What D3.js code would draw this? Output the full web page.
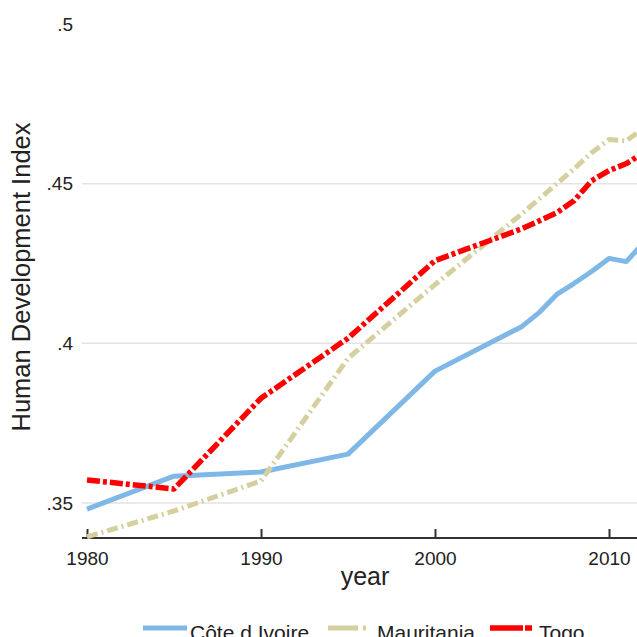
<!DOCTYPE html>
<html>
<head>
<meta charset="utf-8">
<script src="https://cdn.jsdelivr.net/npm/d3@7"></script>
<style>
  body { margin: 0; background: #fff; }
  svg { font-family: "Liberation Sans", Arial, sans-serif; }
</style>
</head>
<body>
<div class="main"></div>
<script>
// data
const years = [1980, 1985, 1990, 1995, 2000, 2005, 2006, 2007, 2008, 2009, 2010, 2011, 2012];
const coteDIvoire = [0.3481, 0.3584, 0.3597, 0.3653, 0.3913, 0.4053, 0.4097, 0.4153, 0.4188, 0.4225, 0.4266, 0.4256, 0.4316];
const mauritania = [0.3394, 0.3475, 0.3569, 0.3953, 0.4184, 0.4406, 0.4453, 0.4500, 0.4547, 0.4597, 0.4638, 0.4634, 0.4675];
const togo = [0.3572, 0.3544, 0.3828, 0.4016, 0.4259, 0.4359, 0.4384, 0.4409, 0.4447, 0.4509, 0.4541, 0.4563, 0.4597];
const seriesNames = ["Côte d Ivoire", "Mauritania", "Togo"];
const xTicks = [1980, 1990, 2000, 2010];
const yTicks = [0.35, 0.4, 0.45, 0.5];
const gridTicks = [0.35, 0.4, 0.45];

const w = 637, h = 637;
const plotLeft = 82, plotRight = 660, axisY = 538;
const fontFam = "Liberation Sans, Arial, sans-serif";

const xScale = d3.scaleLinear().domain([1980, 2010]).range([87, 609]);
const yScale = d3.scaleLinear().domain([0.35, 0.5]).range([503, 24]);

const svg = d3.select(".main").append("svg")
  .attr("width", w)
  .attr("height", h);

// gridlines
svg.append("g")
  .selectAll("line")
  .data(gridTicks)
  .enter()
  .append("line")
  .attr("x1", plotLeft)
  .attr("x2", plotRight)
  .attr("y1", d => yScale(d))
  .attr("y2", d => yScale(d))
  .attr("stroke", "#e3e3e3")
  .attr("stroke-width", 1.5);

// y axis: labels only
const yAxis = d3.axisLeft(yScale)
  .tickValues(yTicks)
  .tickSize(0)
  .tickPadding(0)
  .tickFormat(d => d3.format(".2~f")(d).replace(/^0/, ""));

svg.append("g")
  .attr("transform", "translate(73,0)")
  .call(yAxis)
  .call(g => g.select(".domain").remove())
  .call(g => g.attr("font-size", 19).attr("font-family", fontFam))
  .call(g => g.selectAll("text").attr("fill", "#222"));

// x axis
const xAxis = d3.axisBottom(xScale)
  .tickValues(xTicks)
  .tickSize(-9)
  .tickSizeOuter(0)
  .tickPadding(14)
  .tickFormat(d3.format("d"));

const xg = svg.append("g")
  .attr("transform", "translate(0," + axisY + ")")
  .call(xAxis)
  .attr("font-size", 19)
  .attr("font-family", fontFam);
xg.select(".domain").remove();
xg.append("line")
  .attr("x1", plotLeft)
  .attr("x2", plotRight)
  .attr("stroke", "#333")
  .attr("stroke-width", 2);
xg.selectAll(".tick line").attr("stroke", "#333").attr("stroke-width", 2);
xg.selectAll("text").attr("fill", "#222");

// axis titles
svg.append("text")
  .attr("x", 365)
  .attr("y", 585)
  .attr("text-anchor", "middle")
  .attr("font-size", 25)
  .attr("fill", "#222")
  .text("year");

svg.append("text")
  .attr("transform", "translate(30,277) rotate(-90)")
  .attr("text-anchor", "middle")
  .attr("font-size", 25.5)
  .attr("fill", "#222")
  .text("Human Development Index");

// lines
const series = [
  { name: seriesNames[0], values: coteDIvoire, color: "#7fb8e6", width: 5, dash: null },
  { name: seriesNames[1], values: mauritania, color: "#d5d0a0", width: 5, dash: "11,4,2,4" },
  { name: seriesNames[2], values: togo, color: "#ff0000", width: 5.5, dash: "13,3,4,3" }
];

const line = d3.line()
  .x((d, i) => xScale(years[i]))
  .y(d => yScale(d));

svg.append("g")
  .selectAll("path")
  .data(series)
  .enter()
  .append("path")
  .attr("d", d => line(d.values))
  .attr("fill", "none")
  .attr("stroke", d => d.color)
  .attr("stroke-width", d => d.width)
  .attr("stroke-dasharray", d => d.dash)
  .attr("stroke-linejoin", "round");

// legend
const legendX = [143, 328, 490];
const legendTextX = [190, 377, 539];
const legendY = 628;
const leg = svg.append("g");
series.forEach((s, i) => {
  leg.append("line")
    .attr("x1", legendX[i])
    .attr("x2", legendX[i] + 44)
    .attr("y1", legendY)
    .attr("y2", legendY)
    .attr("stroke", s.color)
    .attr("stroke-width", s.width)
    .attr("stroke-dasharray", s.dash ? (i === 1 ? "30,5,3,10" : "33,2,7,10") : null);
  leg.append("text")
    .attr("x", legendTextX[i])
    .attr("y", legendY + 12)
    .attr("font-size", 21)
    .attr("fill", "#222")
    .text(s.name);
});
</script>
</body>
</html>
